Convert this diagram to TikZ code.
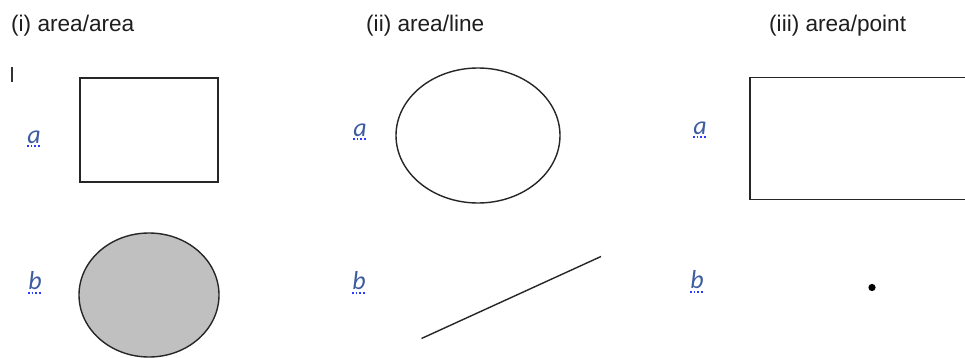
\documentclass[tikz,border=0pt]{standalone}
\usepackage{fontspec}
\usetikzlibrary{shapes.geometric}
\setmainfont{Liberation Sans}
\newfontfamily\labfont{Carlito}
\definecolor{labblue}{RGB}{62,92,160}
\definecolor{squig}{RGB}{40,60,255}
\definecolor{shade}{RGB}{192,192,192}
\definecolor{titlegray}{RGB}{30,30,30}
\begin{document}
\begin{tikzpicture}[x=1pt,y=-1pt,
  title/.style={anchor=base west,inner sep=0pt,font=\fontsize{22.6}{25}\selectfont,text=titlegray},
  lab/.style={inner sep=0pt,font=\labfont\itshape\fontsize{26}{28}\selectfont,text=labblue},
  shapeline/.style={draw=black!85,line width=1.4pt},
  squiggle/.style={draw=squig,line width=1.6pt,dotted}]
\useasboundingbox (0,0) rectangle (965,358);
\clip (0,0) rectangle (965,358);
\fill[white] (0,0) rectangle (965,358);
% titles
\node[title] (t1) at (11,32) {(i) area/area};
\node[title] (t2) at (366,32) {(ii) area/line};
\node[title] (t3) at (769,32) {(iii) area/point};
% text cursor
\coordinate (cur1) at (12,67);
\coordinate (cur2) at (12,82);
\draw[line width=1.2pt,black!80] (cur1) -- (cur2);
% labels
\node[lab] (a1) at (34,137) {a};
\node[lab] (b1) at (35,281) {b};
\node[lab] (a2) at (360,130) {a};
\node[lab] (b2) at (359,281) {b};
\node[lab] (a3) at (700,128) {a};
\node[lab] (b3) at (697,280) {b};
\foreach \n in {a1,b1,a2,b2,a3,b3}{
  \draw[squiggle] ([yshift=-2.5pt]\n.south west) -- ([yshift=-2.5pt]\n.south east);
}
% (i) shapes
\node[shapeline,rectangle,minimum width=138pt,minimum height=104pt,inner sep=0pt] (r1) at (149,130) {};
\node[shapeline,ellipse,fill=shade,minimum width=140pt,minimum height=124pt,inner sep=0pt] (c1) at (149,295) {};
% (ii) shapes
\node[shapeline,ellipse,minimum width=164pt,minimum height=135pt,inner sep=0pt] (e2) at (478,135.5) {};
\coordinate (l1) at (421.5,338.5);
\coordinate (l2) at (601,256.5);
\draw[shapeline] (l1) -- (l2);
% (iii) shapes
\node[shapeline,rectangle,minimum width=215.5pt,minimum height=122pt,inner sep=0pt] (r3) at (857.75,138.5) {};
\fill[black] (872,287.5) circle (3.6) coordinate (p3);
\end{tikzpicture}
\end{document}
